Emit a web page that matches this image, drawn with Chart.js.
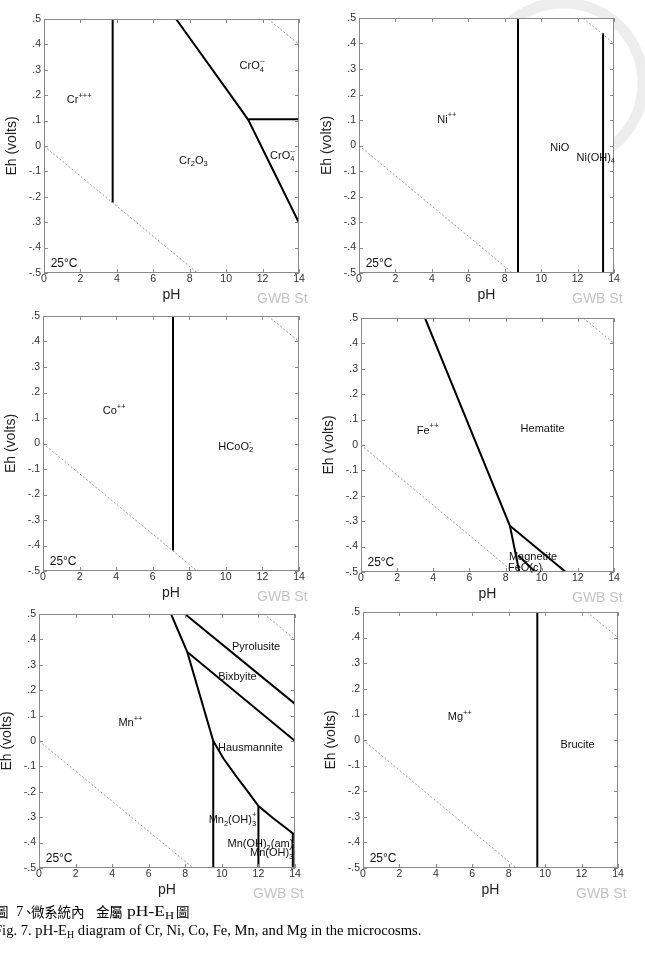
<!DOCTYPE html>
<html><head><meta charset="utf-8">
<script src="https://cdn.jsdelivr.net/npm/chart.js@4.4.0/dist/chart.umd.min.js"></script>
<style>
html,body{margin:0;padding:0;background:#fff;width:645px;height:963px;overflow:hidden;position:relative;}
canvas{position:absolute;}
.cap{position:absolute;white-space:nowrap;font-family:'Liberation Serif','Times New Roman',serif;font-size:14.6px;line-height:16px;color:#000;}
.cap sub{font-size:10px;vertical-align:-3px;line-height:0;}
.cap1{position:absolute;top:903px;white-space:nowrap;line-height:16px;color:#000;}
.cjk{font-family:'Noto Sans CJK TC',sans-serif;font-size:13.5px;letter-spacing:-0.2px;}
.lat{font-family:'Liberation Serif','Times New Roman',serif;font-size:14.6px;}
.lat sub{font-size:10.5px;vertical-align:-3px;line-height:0;}
</style></head><body>
<canvas id="seal" width="645" height="200" style="left:0;top:0"></canvas>
<canvas id="c1"></canvas><canvas id="c2"></canvas><canvas id="c3"></canvas>
<canvas id="c4"></canvas><canvas id="c5"></canvas><canvas id="c6"></canvas>
<span class="cap1 cjk" style="left:-5px">圖</span>
<span class="cap1 lat" style="left:16px">7</span>
<span class="cap1 cjk" style="left:22px">、</span>
<span class="cap1 cjk" style="left:31px">微系統內</span>
<span class="cap1 cjk" style="left:96px">金屬</span>
<span class="cap1 lat" style="left:127px;transform:scaleX(1.2);transform-origin:left center">pH-E<sub>H</sub></span>
<span class="cap1 cjk" style="left:176px">圖</span>
<div class="cap" style="left:-6px;top:922px">Fig. 7. pH-E<sub>H</sub> diagram of Cr, Ni, Co, Fe, Mn, and Mg in the microcosms.</div>
<script>
// ---------- shared axis data ----------
const xTickValues = [0, 2, 4, 6, 8, 10, 12, 14];
const yTickValues = [0.5, 0.4, 0.3, 0.2, 0.1, 0, -0.1, -0.2, -0.3, -0.4, -0.5];
const yTickLabels = ['.5', '.4', '.3', '.2', '.1', '0', '-.1', '-.2', '-.3', '-.4', '-.5'];
const yTickLabelsAlt = ['.5', '.4', '.3', '.2', '.1', '0', '-.1', '-.2', '.3', '-.4', '-.5'];
const waterLower = [[0, 0], [8.43, -0.5]];
const waterUpper = [[12.3, 0.5], [14, 0.4]];
const tempLabel = ['25°C', 1.1, -0.465];
const watermarkText = 'GWB Student';

// ---------- Cr ----------
const crBoundaries = [
  [[3.77, 0.5], [3.77, -0.223]],
  [[7.25, 0.5], [10.77, 0.148], [11.22, 0.102], [14, -0.302]],
  [[11.22, 0.105], [14, 0.105]]
];
const crLabels = [
  ['Cr^{+++}', 1.93, 0.18],
  ['CrO_4^{--}', 11.43, 0.315],
  ['CrO_4^{--}', 13.1, -0.039],
  ['Cr_2O_3', 8.2, -0.058]
];
// ---------- Ni ----------
const niBoundaries = [
  [[8.73, 0.5], [8.73, -0.5]],
  [[13.4, 0.44], [13.4, -0.5]]
];
const niLabels = [
  ['Ni^{++}', 4.82, 0.1],
  ['NiO', 11.02, -0.011],
  ['Ni(OH)_4', 13.0, -0.048]
];
// ---------- Co ----------
const coBoundaries = [
  [[7.11, 0.5], [7.11, -0.42]]
];
const coLabels = [
  ['Co^{++}', 3.89, 0.127],
  ['HCoO_2^-', 10.54, -0.013]
];
// ---------- Fe ----------
const feBoundaries = [
  [[3.54, 0.5], [8.24, -0.318], [8.76, -0.5]],
  [[8.24, -0.318], [11.33, -0.5]],
  [[8.7, -0.435], [9.65, -0.5]]
];
const feLabels = [
  ['Fe^{++}', 3.68, 0.055],
  ['Hematite', 10.05, 0.063],
  ['Magnetite', 9.52, -0.44],
  ['FeO(c)', 9.08, -0.485]
];
// ---------- Mn ----------
const mnBoundaries = [
  [[7.22, 0.5], [8.11, 0.35], [9.53, 0.0]],
  [[7.98, 0.5], [14, 0.146]],
  [[8.11, 0.35], [14, 0.0]],
  [[9.53, 0.0], [10.08, -0.068], [10.81, -0.141], [11.36, -0.193], [12.0, -0.256], [12.81, -0.304], [14, -0.37]],
  [[9.53, 0.0], [9.53, -0.5]],
  [[12.0, -0.256], [12.0, -0.5]],
  [[13.88, -0.362], [13.88, -0.5]]
];
const mnLabels = [
  ['Pyrolusite', 11.87, 0.369],
  ['Bixbyite', 10.85, 0.254],
  ['Mn^{++}', 5.0, 0.07],
  ['Hausmannite', 11.56, -0.026],
  ['Mn_2(OH)_3^+', 10.58, -0.311],
  ['Mn(OH)_2(am)', 12.11, -0.407],
  ['Mn(OH)_3^-', 12.72, -0.442]
];
// ---------- Mg ----------
const mgBoundaries = [
  [[9.57, 0.5], [9.57, -0.5]]
];
const mgLabels = [
  ['Mg^{++}', 5.31, 0.089],
  ['Brucite', 11.78, -0.02]
];

// ---------- layout (pixel geometry of each plot area) ----------
const panels = [
  {id: 'c1', rect: [44, 19, 255, 254], lines: crBoundaries, labels: crLabels, yl: yTickLabelsAlt},
  {id: 'c2', rect: [359, 18, 255, 255], lines: niBoundaries, labels: niLabels, yl: yTickLabels},
  {id: 'c3', rect: [43, 316, 256, 255], lines: coBoundaries, labels: coLabels, yl: yTickLabels},
  {id: 'c4', rect: [361, 318, 253, 254], lines: feBoundaries, labels: feLabels, yl: yTickLabels},
  {id: 'c5', rect: [39, 614, 256, 254], lines: mnBoundaries, labels: mnLabels, yl: yTickLabelsAlt},
  {id: 'c6', rect: [363, 612, 255, 256], lines: mgBoundaries, labels: mgLabels, yl: yTickLabels}
];
const PAD_L = 44, PAD_T = 12, PAD_R = 16, PAD_B = 40;
const FONT = "'Liberation Sans', Arial, sans-serif";

// seal watermark (faint ring)
(function () {
  const c = document.getElementById('seal').getContext('2d');
  c.strokeStyle = 'rgba(190,190,190,0.28)';
  c.lineWidth = 11;
  c.beginPath(); c.arc(563, 83, 80, 0, Math.PI * 2); c.stroke();
})();

function parseRich(s) {
  const out = []; let i = 0; let buf = '';
  while (i < s.length) {
    const ch = s[i];
    if (ch === '_' || ch === '^') {
      if (buf) { out.push({t: buf, k: 'n'}); buf = ''; }
      let t;
      if (s[i + 1] === '{') { const j = s.indexOf('}', i); t = s.slice(i + 2, j); i = j + 1; }
      else { t = s[i + 1]; i += 2; }
      out.push({t, k: ch === '_' ? 'sub' : 'sup'});
    } else { buf += ch; i++; }
  }
  if (buf) out.push({t: buf, k: 'n'});
  return out;
}
function drawRich(ctx, s, cx, cy, size) {
  const toks = parseRich(s);
  const small = size * 0.68;
  const items = []; let x = 0;
  for (let i = 0; i < toks.length; i++) {
    const tk = toks[i];
    if (tk.k === 'n') {
      ctx.font = size + 'px ' + FONT;
      items.push({t: tk.t, x, dy: 0, f: ctx.font});
      x += ctx.measureText(tk.t).width;
    } else {
      ctx.font = small + 'px ' + FONT;
      let w = ctx.measureText(tk.t).width;
      items.push({t: tk.t, x, dy: tk.k === 'sub' ? size * 0.32 : -size * 0.42, f: ctx.font});
      const nx = toks[i + 1];
      if (nx && nx.k !== 'n' && nx.k !== tk.k) {
        w = Math.max(w, ctx.measureText(nx.t).width);
        items.push({t: nx.t, x, dy: nx.k === 'sub' ? size * 0.32 : -size * 0.42, f: ctx.font});
        i++;
      }
      x += w;
    }
  }
  const x0 = cx - x / 2;
  ctx.textBaseline = 'middle'; ctx.textAlign = 'left';
  for (const it of items) { ctx.font = it.f; ctx.fillText(it.t, x0 + it.x, cy + it.dy); }
}

const decorPlugin = {
  id: 'decor',
  beforeDraw(chart) {
    const a = chart.chartArea, ctx = chart.ctx;
    ctx.save(); ctx.fillStyle = '#fff';
    ctx.fillRect(a.left, a.top, a.right - a.left, a.bottom - a.top);
    ctx.restore();
  },
  afterDraw(chart, args, opts) {
    const a = chart.chartArea, ctx = chart.ctx;
    const xs = chart.scales.x, ys = chart.scales.y;
    ctx.save();
    // frame
    ctx.strokeStyle = '#8a8a8a'; ctx.lineWidth = 1;
    ctx.strokeRect(a.left + 0.5, a.top + 0.5, a.right - a.left - 1, a.bottom - a.top - 1);
    // inward ticks
    ctx.beginPath();
    xs.ticks.forEach(t => {
      const px = Math.round(xs.getPixelForValue(t.value)) + 0.5;
      ctx.moveTo(px, a.bottom); ctx.lineTo(px, a.bottom - 4);
      ctx.moveTo(px, a.top); ctx.lineTo(px, a.top + 4);
    });
    ys.ticks.forEach(t => {
      const py = Math.round(ys.getPixelForValue(t.value)) + 0.5;
      ctx.moveTo(a.left, py); ctx.lineTo(a.left + 4, py);
      ctx.moveTo(a.right, py); ctx.lineTo(a.right - 4, py);
    });
    ctx.stroke();
    // region labels
    ctx.fillStyle = '#111';
    opts.labels.forEach(l => drawRich(ctx, l[0], xs.getPixelForValue(l[1]), ys.getPixelForValue(l[2]), 11));
    // temperature
    ctx.font = '12px ' + FONT; ctx.textAlign = 'center'; ctx.textBaseline = 'middle';
    ctx.fillText(tempLabel[0], xs.getPixelForValue(tempLabel[1]), ys.getPixelForValue(tempLabel[2]));
    // watermark text (clipped)
    ctx.beginPath(); ctx.rect(a.right - 50, a.bottom + 10, 59, 30); ctx.clip();
    ctx.fillStyle = '#c4c4c4'; ctx.font = '14px ' + FONT; ctx.textAlign = 'left';
    ctx.fillText(watermarkText, a.right - 42, a.bottom + 26);
    ctx.restore();
  }
};

function toXY(pairs) { return pairs.map(p => ({x: p[0], y: p[1]})); }

panels.forEach(p => {
  const [L, T, W, H] = p.rect;
  const cv = document.getElementById(p.id);
  cv.width = PAD_L + W + PAD_R; cv.height = PAD_T + H + PAD_B;
  cv.style.left = (L - PAD_L) + 'px'; cv.style.top = (T - PAD_T) + 'px';
  const datasets = [];
  [waterLower, waterUpper].forEach(w => datasets.push({
    data: toXY(w), showLine: true, borderColor: '#9a9a9a', borderWidth: 1, borderDash: [2, 2],
    pointRadius: 0, fill: false, tension: 0
  }));
  p.lines.forEach(ln => datasets.push({
    data: toXY(ln), showLine: true, borderColor: '#000', borderWidth: 2,
    pointRadius: 0, fill: false, tension: 0
  }));
  new Chart(cv, {
    type: 'scatter',
    data: {datasets},
    plugins: [decorPlugin],
    options: {
      responsive: false, animation: false, devicePixelRatio: 1,
      layout: {padding: {top: PAD_T, right: PAD_R, left: 0, bottom: 0}},
      plugins: {legend: {display: false}, tooltip: {enabled: false}, decor: {labels: p.labels}},
      scales: {
        x: {
          type: 'linear', min: 0, max: 14,
          afterBuildTicks: s => { s.ticks = xTickValues.map(v => ({value: v})); },
          afterFit: s => { s.height = PAD_B; },
          grid: {display: false, drawTicks: false}, border: {display: false},
          ticks: {padding: 0, color: '#333', font: {size: 10.5, family: FONT}, maxRotation: 0, autoSkip: false},
          title: {display: true, text: 'pH', color: '#222', font: {size: 14, family: FONT}, padding: {top: 0, bottom: 9.6}}
        },
        y: {
          type: 'linear', min: -0.5, max: 0.5,
          afterBuildTicks: s => { s.ticks = yTickValues.map(v => ({value: v})); },
          afterFit: s => { s.width = PAD_L; },
          grid: {display: false, drawTicks: false}, border: {display: false},
          ticks: {padding: 3, color: '#333', font: {size: 10.5, family: FONT}, autoSkip: false,
            callback: (v, i) => p.yl[i]},
          title: {display: true, text: 'Eh (volts)', color: '#222', font: {size: 14, family: FONT}, padding: {top: 3.6, bottom: 0}}
        }
      }
    }
  });
});
</script>
</body></html>
